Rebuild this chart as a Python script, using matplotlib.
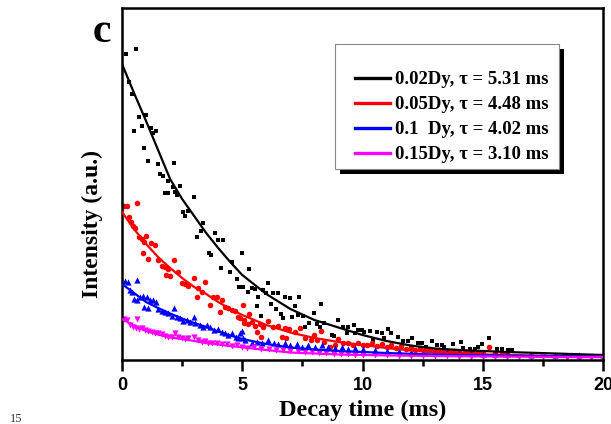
import matplotlib
matplotlib.use('Agg')
import matplotlib.pyplot as plt
from matplotlib.patches import Rectangle
from matplotlib.ticker import MultipleLocator, NullLocator

# measured decay points (time in ms, intensity in a.u.)
black_t = [0.15, 0.58, 0.29, 0.40, 0.72, 1.00, 0.82, 0.50, 1.20, 1.40, 1.30, 0.90, 1.10, 1.50, 2.17,
           1.60, 1.71, 1.92, 2.13, 2.40, 1.80, 1.90, 2.22, 2.27, 3.00, 2.55, 2.73, 2.62, 3.38, 3.28,
           3.10, 3.86, 4.00, 4.20, 3.60, 3.69, 4.56, 4.10, 4.49, 4.98, 4.86, 5.04, 5.28, 4.77, 5.22,
           5.39, 5.53, 5.67, 5.87, 6.08, 5.99, 6.29, 6.47, 6.18, 5.60, 6.39, 6.78, 6.99, 7.37, 7.19,
           6.60, 5.78, 6.68, 7.08, 7.33, 7.54, 7.98, 8.27, 7.61, 7.78, 8.09, 8.23, 8.41, 8.72, 8.83,
           8.97, 9.20, 9.41, 9.66, 9.34, 9.69, 9.99, 9.80, 10.08, 10.31, 10.59, 10.80, 11.07, 11.18,
           10.45, 10.90, 11.46, 11.69, 11.90, 12.07, 12.29, 12.46, 12.66, 12.87, 13.08, 13.29, 13.40,
           13.77, 14.10, 14.19, 14.47, 14.68, 14.96, 14.79, 15.26, 15.58, 15.79, 16.06, 16.20]
black_y = [306, 311, 278, 266, 243, 245, 234, 229, 232, 229, 227, 212, 199, 196, 197,
           186, 184, 179, 173, 174, 167, 167, 168, 165, 163, 148, 149, 144, 137, 129,
           123, 127, 120, 120, 107, 105, 98, 92, 88, 107, 73, 73, 91, 81, 68,
           72, 71, 63, 70, 77, 67, 67, 67, 56, 54, 51, 63, 62, 63, 54,
           46, 44, 42, 43, 45, 44, 47, 56, 33, 37, 36, 33, 37, 25, 24,
           40, 33, 33, 35, 27, 27, 30, 30, 28, 29, 28, 27, 31, 27,
           20, 22, 23, 19, 19, 22, 17, 17, 13, 19, 15, 15, 13,
           16, 18, 12, 11, 11, 16, 13, 22, 11, 11, 10, 10]

red_t = [0.10, 0.20, 0.61, 0.29, 0.37, 0.47, 0.54, 0.70, 0.82, 0.92, 1.00, 0.89, 1.09, 1.20, 1.37,
         1.51, 1.65, 1.79, 1.92, 2.17, 1.81, 2.00, 2.34, 2.48, 2.62, 2.76, 3.00, 3.17, 3.45, 3.34,
         3.10, 3.66, 3.80, 3.94, 4.14, 4.07, 4.28, 4.42, 4.56, 4.70, 5.04, 4.91, 5.08, 5.28, 4.82,
         5.09, 5.25, 5.39, 5.53, 5.74, 5.87, 6.08, 6.29, 6.47, 5.78, 5.60, 6.78, 6.96, 7.19, 7.40,
         6.64, 6.82, 7.98, 8.27, 7.61, 7.86, 8.09, 8.41, 8.65, 8.86, 9.00, 9.20, 9.41, 9.62, 9.83,
         10.03, 10.2, 10.4, 10.6, 10.8, 11.0, 11.2, 11.4, 11.6, 11.8, 12.0, 12.2, 12.4, 12.6, 12.8,
         13.0, 13.2, 13.4, 13.6, 13.8, 14.0, 14.2, 14.4, 14.6, 14.8, 15.0, 15.27, 15.5, 15.8, 16.0]
red_y = [154, 154, 157, 143, 138, 134, 132, 123, 121, 118, 124, 107, 101, 117, 115,
         100, 94, 93, 91, 100, 85, 84, 88, 77, 76, 74, 82, 72, 78, 68,
         63, 55, 63, 63, 60, 48, 53, 52, 50, 49, 55, 42, 37, 46, 43,
         40, 36, 38, 34, 36, 33, 39, 33, 34, 23, 28, 32, 31, 28, 32,
         23, 22, 25, 29, 22, 20, 20, 18, 13, 15, 21, 17, 17, 15, 17,
         15, 15, 17, 14, 16, 13, 15, 12, 14, 11, 13, 10, 12, 10, 11,
         9, 10, 9, 8, 9, 8, 7, 8, 7, 8, 7, 13, 7, 6, 6]

blue_t = [0.12, 0.24, 0.61, 0.33, 0.43, 0.51, 0.63, 0.75, 0.89, 1.03, 1.16, 1.30, 1.40, 0.92, 1.09,
          1.51, 1.65, 1.79, 1.92, 2.17, 2.06, 2.27, 2.41, 2.55, 2.69, 2.83, 3.00, 3.04, 3.24, 3.38,
          3.52, 3.66, 3.84, 4.00, 4.14, 4.28, 4.42, 4.59, 4.73, 4.91, 5.04, 4.98, 4.82, 5.11, 5.39,
          5.60, 5.81, 6.08, 6.33, 6.50, 6.78, 6.99, 7.26, 7.47, 7.75, 8.02, 8.30, 8.58, 8.86, 9.14,
          9.41, 9.69, 10.03, 10.5, 11.0, 11.5, 12.0, 12.5, 13.0, 13.5, 14.0, 14.5, 15.0, 15.5, 16.0,
          17.0, 18.0, 19.0, 20.0]
blue_y = [79, 78, 80, 70, 68, 61, 60, 63, 64, 63, 60, 60, 58, 53, 52,
          51, 49, 48, 47, 52, 44, 43, 42, 39, 40, 38, 43, 37, 35, 33,
          35, 33, 30, 31, 28, 27, 25, 27, 23, 27, 22, 29, 22, 20, 17,
          18, 17, 20, 17, 16, 17, 15, 16, 13, 15, 13, 15, 13, 12, 13,
          11, 12, 11, 10, 9, 9.5, 8, 8.5, 7.5, 8, 7, 7, 6.5, 6, 6,
          5.5, 5, 5, 5]

magenta_t = [0.10, 0.20, 0.61, 0.33, 0.47, 0.57, 0.71, 0.82, 0.96, 1.09, 1.23, 1.37, 1.51, 1.65, 1.79,
             1.93, 2.07, 2.20, 2.34, 2.48, 2.62, 2.76, 2.99, 3.17, 3.31, 3.45, 3.59, 3.75, 3.94, 4.15,
             4.35, 4.56, 4.77, 4.98, 5.2, 5.5, 5.8, 6.1, 6.4, 6.7, 7.0, 7.3, 7.6, 7.9, 8.2,
             8.5, 8.8, 9.1, 9.4, 9.7, 10.0, 10.5, 11.0, 11.5, 12.0, 12.5, 13.0, 13.5, 14.0, 14.5,
             15.0, 15.5, 16.0, 16.5, 17.0, 17.5, 18.0, 18.5, 19.0, 19.5, 20.0]
magenta_y = [41, 40, 41, 35, 33, 32, 31, 32, 30, 29, 28, 27, 27, 26, 24,
             23, 23, 27, 23, 22, 21, 22, 23, 20, 18, 19, 17, 17, 17, 16,
             16, 14, 15, 13, 12, 13, 11, 11, 10, 10, 9, 9, 8, 8, 7,
             7.5, 6.5, 6, 6.5, 5.5, 5.5, 5, 5, 4.5, 4.5, 4, 4, 4, 3.5, 3.5,
             3.5, 3, 3, 3, 3, 3, 3, 2.5, 2.5, 2.5, 2.5]

# exponential fit curves
fit_t = [0, 0.5, 1, 1.5, 2, 2.5, 3, 3.5, 4, 4.5, 5, 6, 7, 8, 9, 10, 11, 12, 13, 14, 15, 16, 18, 20]
black_fit = [296, 267, 239, 210, 181, 161, 144, 127, 112, 98, 85, 66, 51, 40, 32.5, 25, 19, 14.5,
             11.5, 10, 9, 8, 6.5, 5]
red_fit = [148, 131, 116, 103, 92, 82, 73, 66, 58, 51, 45, 35, 27.5, 22, 18, 15, 12, 9.5,
           7.5, 6.5, 5.5, 5, 4, 3.5]
blue_fit = [76, 67, 58, 52, 46.5, 41.5, 37, 33, 28.5, 24.5, 21, 16, 12.5, 10.5, 9, 8, 7, 6.2,
            5.5, 5, 4.7, 4.4, 3.8, 3.4]
magenta_fit = [41, 34.5, 29, 25.5, 22.5, 21, 19, 17, 15.5, 14, 12.7, 10, 7.5, 6.5, 5.5, 5, 4.6,
               4.3, 4, 3.8, 3.6, 3.4, 3, 2.8]

labels = ['0.02Dy, \u03c4 = 5.31 ms', '0.05Dy, \u03c4 = 4.48 ms',
          '0.1  Dy, \u03c4 = 4.02 ms', '0.15Dy, \u03c4 = 3.10 ms']
colors = ['black', 'red', 'blue', 'magenta']

fig = plt.figure(figsize=(6.11, 4.24), dpi=100)
ax = fig.add_axes([122 / 611, 64 / 424, 481 / 611, 352 / 424])

ax.scatter(black_t, black_y, marker='s', s=11, color='black', linewidths=0, zorder=2)
ax.scatter(red_t, red_y, marker='o', s=16, color='red', linewidths=0, zorder=2)
ax.scatter(blue_t, blue_y, marker='^', s=20, color='blue', linewidths=0, zorder=2)
ax.scatter(magenta_t, magenta_y, marker='v', s=20, color='magenta', linewidths=0, zorder=2)

for fit, c, lab in zip([black_fit, red_fit, blue_fit, magenta_fit], colors, labels):
    ax.plot(fit_t, fit, color=c, lw=1.6, label=lab, zorder=3)

ax.set_xlim(0, 20)
ax.set_ylim(0, 352)
ax.xaxis.set_major_locator(MultipleLocator(5))
ax.xaxis.set_minor_locator(MultipleLocator(2.5))
ax.yaxis.set_major_locator(NullLocator())
ax.tick_params(axis='x', which='major', direction='out', length=8, width=1.8, pad=4)
ax.tick_params(axis='x', which='minor', direction='out', length=4, width=1.8)
for lbl in ax.get_xticklabels():
    lbl.set_fontfamily('Liberation Sans')
    lbl.set_fontweight('bold')
    lbl.set_fontsize(13)
for sp in ax.spines.values():
    sp.set_linewidth(1.8)

ax.set_xlabel('Decay time (ms)', family='Liberation Serif', fontweight='bold', fontsize=17.5, va='top')
ax.xaxis.set_label_coords(0.5, -0.112)
ax.set_ylabel('Intensity (a.u.)', family='Liberation Serif', fontweight='bold', fontsize=17)
ax.yaxis.set_label_coords(-0.04, 0.386)

# legend box with an Origin-style black drop shadow
box = Rectangle((0.4428, 0.5426), 0.4657, 0.3551, transform=ax.transAxes,
                facecolor='white', edgecolor='#888888', lw=0.8, zorder=5)
shadow = Rectangle((0.4428 + 0.0104, 0.5426 - 0.0142), 0.4657, 0.3551, transform=ax.transAxes,
                   facecolor='black', edgecolor='none', zorder=4)
ax.add_patch(shadow)
ax.add_patch(box)

leg = ax.legend(loc='upper left', bbox_to_anchor=(0.4844, 0.821), borderaxespad=0,
                prop={'family': 'Liberation Serif', 'weight': 'bold', 'size': 13.5},
                handlelength=1.85, handletextpad=0.3, labelspacing=0.42, borderpad=0,
                frameon=False)
for h in leg.get_lines():
    h.set_linewidth(2.4)
leg.set_zorder(6)

fig.text(102 / 611, 1 - 42 / 424, 'c', family='Liberation Serif', fontweight='bold',
         fontsize=30, ha='center', va='baseline')
fig.text(10 / 611, 2 / 424, '15', family='Liberation Serif', fontsize=9, color='#333333',
         ha='left', va='baseline')

fig.savefig('out.png', dpi=100)
